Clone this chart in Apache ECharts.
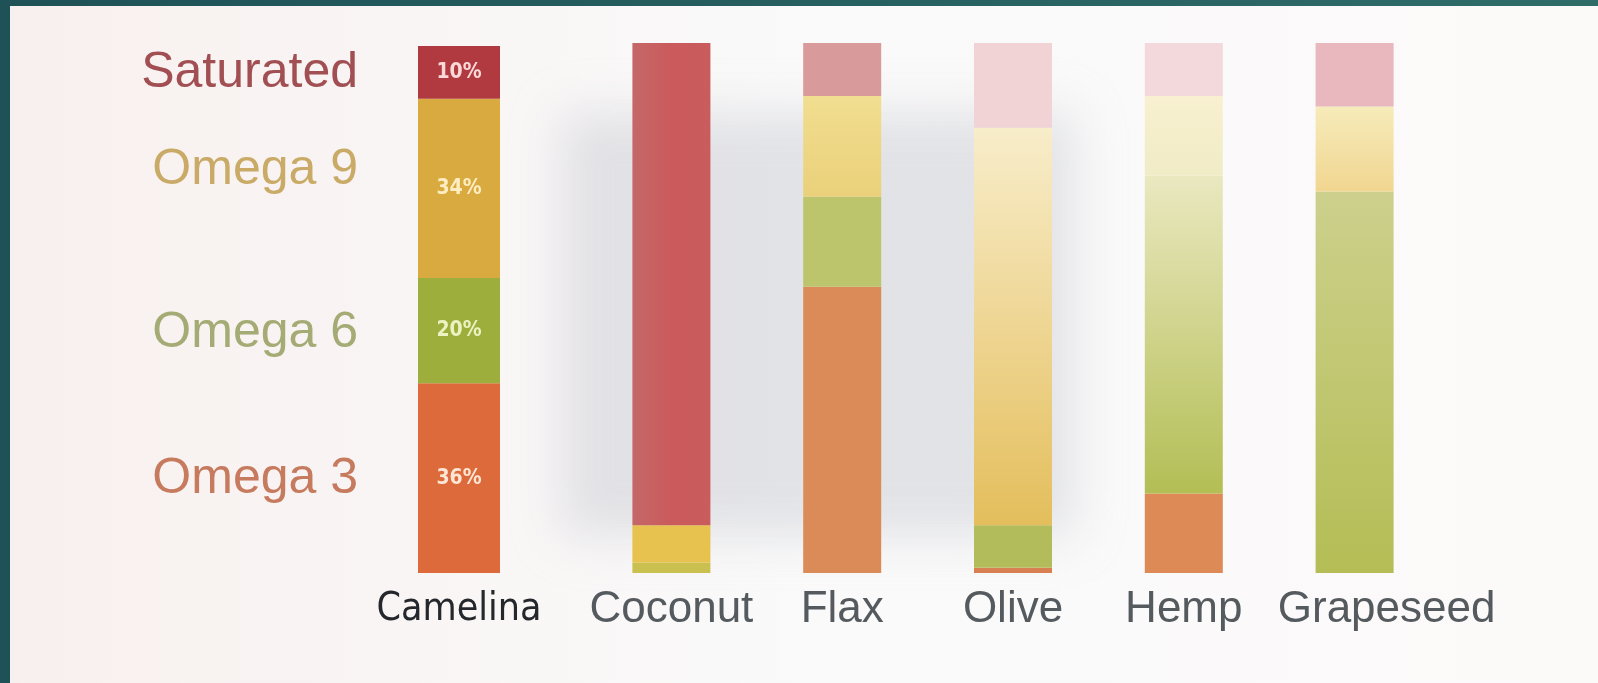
<!DOCTYPE html>
<html>
<head>
<meta charset="utf-8">
<script src="https://cdn.jsdelivr.net/npm/echarts@6/dist/echarts.min.js"></script>
<style>
html,body{margin:0;padding:0;background:#21575a;}
#chart{width:1598px;height:683px;}
</style>
</head>
<body>
<div id="chart"></div>
<script>
// ---- data ----
const featuredOil = ['Camelina'];
const oils = ['Coconut', 'Flax', 'Olive', 'Hemp', 'Grapeseed'];
const fatNames = ['Omega 3', 'Omega 6', 'Omega 9', 'Saturated']; // stacked bottom -> top

// Camelina values (percent)
const camelinaOmega3 = [36];
const camelinaOmega6 = [20];
const camelinaOmega9 = [34];
const camelinaSaturated = [10];

// Other oils (percent), order of `oils`
const omega3 = [0, 54, 1, 15, 0];
const omega6 = [2, 17, 8, 60, 72];
const omega9 = [7, 19, 75, 15, 16];
const saturated = [91, 10, 16, 10, 12];

// ---- styles (kept apart from the values) ----
function vgrad(top, bottom) {
  return new echarts.graphic.LinearGradient(0, 0, 0, 1, [{offset: 0, color: top}, {offset: 1, color: bottom}]);
}
function hgrad(a, b, c) {
  return new echarts.graphic.LinearGradient(0, 0, 1, 0, [{offset: 0, color: a}, {offset: 0.5, color: b}, {offset: 1, color: c}]);
}
const camelinaColors = {
  'Omega 3': '#dc6a3a',
  'Omega 6': '#9dae3c',
  'Omega 9': '#d9aa3f',
  'Saturated': '#b13a40'
};
const camelinaLabelColors = {
  'Omega 3': 'rgba(255,236,220,0.95)',
  'Omega 6': 'rgba(240,245,200,0.95)',
  'Omega 9': 'rgba(255,240,200,0.95)',
  'Saturated': 'rgba(255,225,225,0.95)'
};
const oilColors = {
  'Omega 3': ['#dc8a56', '#db8b58', '#d98052', '#dd8a56', '#b5bd55'],
  'Omega 6': ['#c9c050', '#bcc46c', '#b3bc5a', vgrad('#eae8c0', '#b3be55'), vgrad('#cdd08c', '#b4bd55')],
  'Omega 9': ['#e8c24e', vgrad('#f1de90', '#ead07a'), vgrad('#f8edca', '#e4be5c'), vgrad('#f8f0d0', '#f0ecc6'), vgrad('#f6ebba', '#f1d690')],
  'Saturated': [hgrad('#c46868', '#cb5a5c', '#c95c5c'), '#d99a9b', '#f1d3d6', '#f3d8dc', '#e8b8be']
};
const camelinaValues = {
  'Omega 3': camelinaOmega3, 'Omega 6': camelinaOmega6,
  'Omega 9': camelinaOmega9, 'Saturated': camelinaSaturated
};
const oilValues = {
  'Omega 3': omega3, 'Omega 6': omega6, 'Omega 9': omega9, 'Saturated': saturated
};
const legendLabels = [
  {text: 'Saturated', color: '#a14f52', y: 73},
  {text: 'Omega 9', color: '#c9aa66', y: 170},
  {text: 'Omega 6', color: '#a4ab74', y: 333},
  {text: 'Omega 3', color: '#c67a5e', y: 479}
];

const series = [];
fatNames.forEach(function (name) {
  series.push({
    name: name,
    type: 'bar',
    stack: 'camelina',
    xAxisIndex: 0,
    yAxisIndex: 0,
    barWidth: 82,
    data: camelinaValues[name].map(function (v) {
      return {value: v, itemStyle: {color: camelinaColors[name]}};
    }),
    label: {
      show: true,
      position: 'inside',
      formatter: '{c}%',
      fontFamily: '"DejaVu Sans Condensed", sans-serif',
      fontWeight: 'bold',
      fontSize: 21,
      color: camelinaLabelColors[name]
    }
  });
  series.push({
    name: name,
    type: 'bar',
    stack: 'oils',
    xAxisIndex: 1,
    yAxisIndex: 1,
    barWidth: 78,
    data: oilValues[name].map(function (v, i) {
      return {value: v, itemStyle: {color: oilColors[name][i]}};
    })
  });
});

const chart = echarts.init(document.getElementById('chart'), null, {renderer: 'canvas'});
const axisLabelBase = {
  fontFamily: '"Liberation Sans", Arial, sans-serif',
  fontSize: 44,
  margin: 15,
  interval: 0,
  color: '#555a5e'
};
chart.setOption({
  backgroundColor: new echarts.graphic.LinearGradient(0, 0, 1, 0, [
    {offset: 0, color: '#1e5257'}, {offset: 1, color: '#2f6c68'}
  ]),
  animation: false,
  graphic: [
    {
      type: 'rect', z: -10, silent: true,
      shape: {x: 10, y: 6, width: 1600, height: 690},
      style: {fill: new echarts.graphic.LinearGradient(0, 0, 1, 0, [
        {offset: 0, color: '#f8f0ef'}, {offset: 0.5, color: '#fafafa'}, {offset: 1, color: '#fcf9f9'}
      ])}
    },
    {
      type: 'rect', z: -9, silent: true,
      shape: {x: 560 - 3000, y: 112, width: 515, height: 425},
      style: {fill: '#fff', shadowBlur: 45, shadowColor: 'rgba(205,207,215,0.55)', shadowOffsetX: 3000}
    }
  ].concat(legendLabels.map(function (l) {
    return {
      type: 'text', silent: true,
      x: 358, y: l.y,
      style: {
        text: l.text, fill: l.color,
        font: '50px "Liberation Sans", Arial, sans-serif',
        textAlign: 'right', textVerticalAlign: 'middle'
      }
    };
  })),
  grid: [
    {left: 374, width: 170, top: 46, bottom: 110},
    {left: 586, width: 854, top: 43, bottom: 110}
  ],
  xAxis: [
    {
      type: 'category', gridIndex: 0, data: featuredOil,
      axisLine: {show: false}, axisTick: {show: false},
      axisLabel: Object.assign({}, axisLabelBase, {
        fontFamily: '"DejaVu Sans Condensed", sans-serif',
        fontSize: 39,
        margin: 17,
        color: '#24282c'
      })
    },
    {
      type: 'category', gridIndex: 1, data: oils,
      axisLine: {show: false}, axisTick: {show: false},
      axisLabel: Object.assign({}, axisLabelBase, {
        formatter: function (v) {
          return v === 'Grapeseed' ? '{shift|' + v + '}' : v;
        },
        rich: {
          shift: {
            fontFamily: '"Liberation Sans", Arial, sans-serif',
            fontSize: 44,
            color: '#555a5e',
            padding: [0, 0, 0, 64]
          }
        }
      })
    }
  ],
  yAxis: [
    {type: 'value', gridIndex: 0, min: 0, max: 100, show: false, splitLine: {show: false}},
    {type: 'value', gridIndex: 1, min: 0, max: 100, show: false, splitLine: {show: false}}
  ],
  series: series
});
</script>
</body>
</html>
